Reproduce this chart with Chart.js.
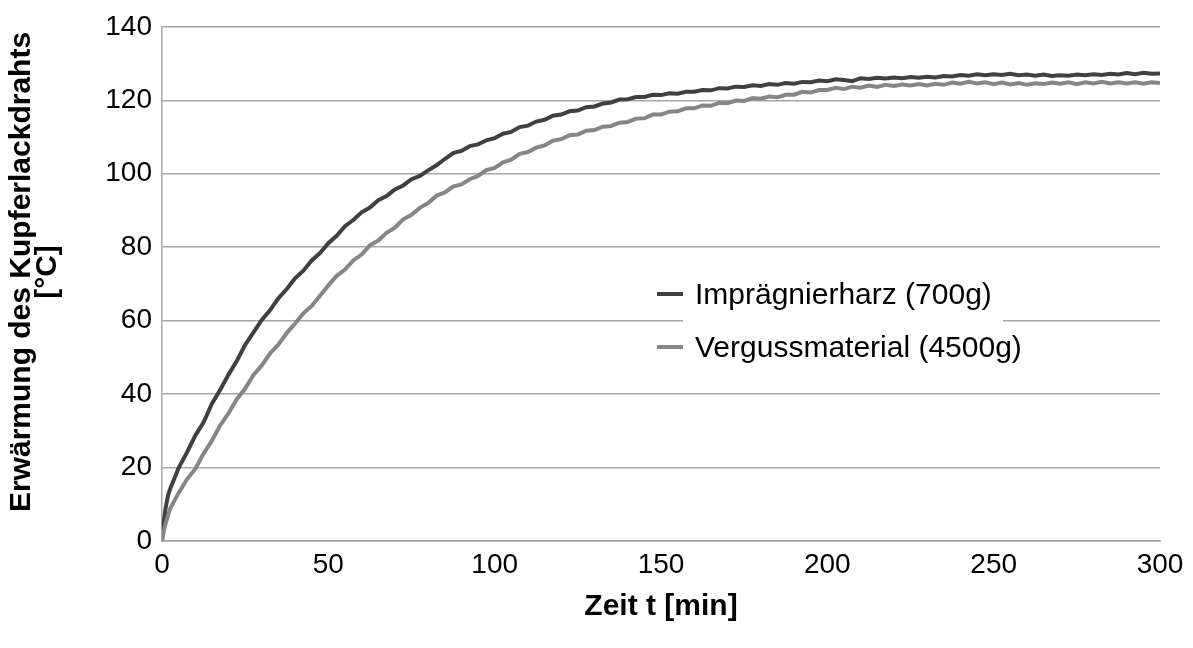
<!DOCTYPE html>
<html>
<head>
<meta charset="utf-8">
<script src="https://cdn.jsdelivr.net/npm/chart.js@4.4.1/dist/chart.umd.min.js"></script>
<style>
  html, body { margin: 0; padding: 0; background: #ffffff; }
  #wrap { width: 1193px; height: 648px; }
</style>
</head>
<body>
<div id="wrap"><canvas id="tempChart" width="1193" height="648"></canvas></div>
<script>
// Zeit t [min]
const times = [
  0, 0.5, 1, 1.5, 2,
  2.5, 5, 7.5, 10, 12.5, 15, 17.5, 20, 22.5, 25,
  27.5, 30, 32.5, 35, 37.5, 40, 42.5, 45, 47.5, 50,
  52.5, 55, 57.5, 60, 62.5, 65, 67.5, 70, 72.5, 75,
  77.5, 80, 82.5, 85, 87.5, 90, 92.5, 95, 97.5, 100,
  102.5, 105, 107.5, 110, 112.5, 115, 117.5, 120, 122.5, 125,
  127.5, 130, 132.5, 135, 137.5, 140, 142.5, 145, 147.5, 150,
  152.5, 155, 157.5, 160, 162.5, 165, 167.5, 170, 172.5, 175,
  177.5, 180, 182.5, 185, 187.5, 190, 192.5, 195, 197.5, 200,
  202.5, 205, 207.5, 210, 212.5, 215, 217.5, 220, 222.5, 225,
  227.5, 230, 232.5, 235, 237.5, 240, 242.5, 245, 247.5, 250,
  252.5, 255, 257.5, 260, 262.5, 265, 267.5, 270, 272.5, 275,
  277.5, 280, 282.5, 285, 287.5, 290, 292.5, 295, 297.5, 300
];

// Imprägnierharz (700g)
const harz = [
  0, 5.0, 8.5, 11.0, 13.0,
  14.3, 19.9, 24.1, 28.7, 32.3, 37.4, 41.2, 45.3, 49.1, 53.4,
  56.8, 60.2, 62.9, 66.1, 68.6, 71.5, 73.6, 76.4, 78.4, 81.1,
  83.1, 85.7, 87.4, 89.5, 90.8, 92.8, 93.9, 95.7, 96.8, 98.5,
  99.4, 100.9, 102.3, 104.0, 105.6, 106.2, 107.5, 108.0, 109.1, 109.7,
  110.9, 111.4, 112.7, 113.1, 114.2, 114.7, 115.8, 116.1, 117.0, 117.2,
  118.1, 118.3, 119.1, 119.4, 120.2, 120.3, 120.9, 120.9, 121.5, 121.4,
  121.9, 121.8, 122.3, 122.3, 122.8, 122.7, 123.3, 123.2, 123.7, 123.6,
  124.1, 123.9, 124.4, 124.2, 124.7, 124.5, 125.0, 124.9, 125.4, 125.2,
  125.7, 125.5, 125.2, 126.0, 125.8, 126.1, 125.9, 126.2, 126.0, 126.3,
  126.1, 126.4, 126.2, 126.6, 126.5, 126.9, 126.7, 127.1, 126.8, 127.1,
  126.9, 127.2, 126.8, 127.0, 126.7, 127.0, 126.6, 126.8, 126.7, 127.0,
  126.8, 127.1, 126.9, 127.2, 127.0, 127.4, 127.1, 127.5, 127.2, 127.3
];

// Vergussmaterial (4500g)
const verguss = [
  0, 2.5, 4.5, 6.0, 7.5,
  8.9, 13.1, 16.8, 19.6, 23.8, 27.3, 31.5, 34.8, 38.6, 41.5,
  45.2, 47.8, 51.1, 53.5, 56.6, 59.2, 62.0, 64.0, 66.8, 69.6,
  72.2, 73.9, 76.4, 78.0, 80.5, 81.8, 83.9, 85.3, 87.6, 88.8,
  90.7, 92.0, 94.0, 94.9, 96.5, 97.1, 98.5, 99.4, 101.0, 101.6,
  103.1, 103.8, 105.4, 105.9, 107.1, 107.7, 109.0, 109.4, 110.5, 110.7,
  111.7, 111.9, 112.8, 113.0, 113.9, 114.1, 115.0, 115.1, 116.1, 116.1,
  116.9, 117.0, 117.8, 117.8, 118.6, 118.5, 119.3, 119.2, 119.9, 119.8,
  120.6, 120.4, 121.0, 120.8, 121.5, 121.5, 122.3, 122.1, 122.8, 122.8,
  123.4, 123.1, 123.7, 123.4, 124.0, 123.6, 124.2, 123.9, 124.3, 124.0,
  124.4, 124.0, 124.5, 124.2, 124.8, 124.5, 125.0, 124.6, 124.9, 124.4,
  124.8, 124.3, 124.7, 124.2, 124.6, 124.4, 124.8, 124.5, 124.9, 124.4,
  124.9, 124.6, 125.0, 124.6, 124.9, 124.6, 124.9, 124.5, 124.9, 124.7
];

const xTicks = [0, 50, 100, 150, 200, 250, 300];
const yTicks = [0, 20, 40, 60, 80, 100, 120, 140];
const yTitle = ['Erwärmung des Kupferlackdrahts', '[°C]'];

const FONT = "'Liberation Sans', Arial, sans-serif";
const DARK = '#404040';
const LIGHT = '#868686';
const GRID = '#a6a6a6';

function toPoints(values) {
  return times.map((t, i) => ({ x: t, y: values[i] }));
}

// legend drawn inside the plot, Excel style
const innerLegend = {
  id: 'innerLegend',
  afterDatasetsDraw(chart) {
    const c = chart.ctx;
    c.save();
    c.fillStyle = '#ffffff';
    c.fillRect(683, 300, 320, 34);
    const rows = [
      { label: chart.data.datasets[0].label, color: DARK, y: 294 },
      { label: chart.data.datasets[1].label, color: LIGHT, y: 347 },
    ];
    c.font = '30px ' + FONT;
    c.textBaseline = 'middle';
    c.textAlign = 'left';
    rows.forEach(r => {
      c.strokeStyle = r.color;
      c.lineWidth = 4;
      c.beginPath();
      c.moveTo(657, r.y);
      c.lineTo(683, r.y);
      c.stroke();
      c.fillStyle = '#000000';
      c.fillText(r.label, 695, r.y + 2);
    });
    c.restore();
  }
};

// rotated two-line y title, placed a bit above the plot centre like the original
const yAxisTitle = {
  id: 'yAxisTitle',
  afterDraw(chart) {
    const c = chart.ctx;
    c.save();
    c.font = 'bold 30px ' + FONT;
    c.fillStyle = '#000000';
    c.textAlign = 'center';
    c.textBaseline = 'middle';
    const xs = [22, 48];
    yTitle.forEach((line, i) => {
      c.save();
      c.translate(xs[i], 272);
      c.rotate(-Math.PI / 2);
      c.fillText(line, 0, 0);
      c.restore();
    });
    c.restore();
  }
};

const ctx = document.getElementById('tempChart').getContext('2d');

const tempChart = new Chart(ctx, {
  type: 'line',
  data: {
    datasets: [
      {
        label: 'Imprägnierharz (700g)',
        data: toPoints(harz),
        borderColor: DARK,
        borderWidth: 4,
        pointRadius: 0,
        tension: 0,
        order: 1,
      },
      {
        label: 'Vergussmaterial (4500g)',
        data: toPoints(verguss),
        borderColor: LIGHT,
        borderWidth: 4,
        pointRadius: 0,
        tension: 0,
        order: 0,
      },
    ],
  },
  options: {
    responsive: false,
    animation: false,
    devicePixelRatio: 1,
    layout: {
      padding: { top: 20, right: 33, left: 0, bottom: 0 },
    },
    scales: {
      x: {
        type: 'linear',
        min: 0,
        max: 300,
        afterBuildTicks: (scale) => {
          scale.ticks = xTicks.map(v => ({ value: v }));
        },
        afterFit: (scale) => { scale.height = 107; },
        grid: { display: false, drawTicks: false },
        border: { display: true, color: GRID, width: 1.5 },
        ticks: {
          color: '#000000',
          font: { family: FONT, size: 28 },
          padding: 7,
          maxRotation: 0,
        },
        title: {
          display: true,
          text: 'Zeit t [min]',
          color: '#000000',
          font: { family: FONT, size: 30, weight: 'bold' },
          padding: { top: 0, bottom: 23 },
        },
      },
      y: {
        min: 0,
        max: 140,
        afterBuildTicks: (scale) => {
          scale.ticks = yTicks.map(v => ({ value: v }));
        },
        afterFit: (scale) => { scale.width = 162; },
        grid: { color: GRID, lineWidth: 1.5, drawTicks: false },
        border: { display: true, color: GRID, width: 1.5 },
        ticks: {
          color: '#000000',
          font: { family: FONT, size: 28 },
          padding: 10,
        },
        title: { display: false },
      },
    },
    plugins: {
      legend: { display: false },
      tooltip: { enabled: false },
    },
  },
  plugins: [innerLegend, yAxisTitle],
});
</script>
</body>
</html>
